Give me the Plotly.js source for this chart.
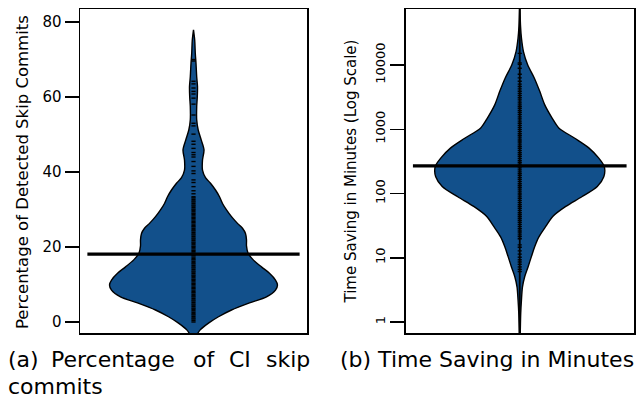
<!DOCTYPE html>
<html>
<head>
<meta charset="utf-8">
<script src="https://cdn.plot.ly/plotly-3.0.1.min.js"></script>
<style>
  html, body { margin: 0; padding: 0; background: #ffffff; }
  #chart { width: 641px; height: 400px; }
</style>
</head>
<body>
<div id="chart"></div>
<script>
// ---- Panel (a): Percentage of detected CI skip commits ----
// violin profile: value level and relative density (half width)
const pctLevels  = [-4, -2.1, -0.3, 1.4, 3.2, 5.1, 6.7, 8.5, 9.9, 11.2, 13, 14.7, 16.5, 18.4, 20.3, 21.9, 23.6, 25, 26.3, 28.1, 29.9, 31.6, 33.4, 35.2, 37, 38.5, 40.5, 43.2, 45.9, 48.5, 51.2, 53.9, 57.4, 60.1, 62.8, 65.4, 69, 71.6, 75.2, 77.9];
const pctDensity = [2, 6.7, 15, 25, 38, 56, 73, 82, 84, 82, 76, 68, 60, 54.5, 53, 53, 52, 49, 44, 38, 33, 29, 26, 22, 17, 12, 9, 9, 10.5, 7.8, 4.7, 3.2, 3.2, 3.8, 4, 3.2, 2.5, 1.8, 1.2, 0];
const pctPoints  = [0, 0.4, 0.8, 1.1, 1.5, 1.9, 2.2, 2.6, 3.0, 3.4, 3.7, 4.1, 4.5, 4.8, 5.2, 5.6, 5.9, 6.3, 6.7, 7.0, 7.4, 7.8, 8.1, 8.5, 8.9, 9.2, 9.6, 10.0, 10.3, 10.7, 11.1, 11.4, 11.8, 12.2, 12.5, 12.9, 13.3, 13.6, 14.0, 14.4, 14.7, 15.1, 15.5, 15.8, 16.2, 16.6, 16.9, 17.3, 17.7, 18.0, 18.4, 18.8, 19.1, 19.5, 19.9, 20.2, 20.6, 21.0, 21.3, 21.7, 22.1, 22.4, 22.8, 23.2, 23.5, 23.9, 24.3, 24.6, 25.0, 25.4, 25.7, 26.1, 26.5, 26.8, 27.2, 27.6, 27.9, 28.3, 28.7, 29.0, 29.4, 29.8, 30.1, 30.5, 30.9, 31.2, 31.6, 32.0, 32.3, 32.7, 33.1, 33.4, 34.2, 35.0, 36.1, 37.2, 37.9, 39.6, 40.3, 41.5, 42.8, 44.0, 44.6, 45.2, 46.3, 47.4, 48.2, 50.1, 52.3, 53.0, 55.2, 58.1, 59.7, 60.8, 61.5, 62.4, 63.5, 64.2, 69.6, 70.0];
const pctMedian  = 18.1;
const pctTicks   = [0, 20, 40, 60, 80];

// ---- Panel (b): Time saving in minutes (log scale) ----
const minLevels  = [0.4, 1.4, 2.2, 3.5, 5.1, 7.2, 10.5, 15, 21, 30, 44, 63, 89, 129, 182, 263, 355, 513, 724, 1050, 1480, 2400, 3900, 6300, 10000, 16200, 26300, 40000, 100000];
const minDensity = [0, 1, 1.7, 2.7, 5, 8.3, 11.7, 15, 19, 25.5, 33, 46, 62, 77.5, 84, 84.5, 79, 69, 55, 39, 32.5, 25, 20, 14.5, 8, 3.7, 1.7, 0.8, 0];
const minPoints  = [6.1, 6.6, 7.2, 7.9, 8.6, 9.3, 10.2, 11.4, 12.8, 14.6, 15.9, 19.8, 21.3, 22.7, 24.4, 26.1, 28.3, 30.5, 32.9, 35.6, 38.1, 40.7, 43.5, 46.8, 50.2, 54.1, 58.4, 62.7, 67.5, 72.9, 78.3, 84.6, 91.2, 98.3, 106, 114, 123, 132, 142, 153, 165, 178, 192, 207, 223, 240, 259, 279, 301, 324, 349, 376, 405, 436, 470, 506, 545, 587, 633, 682, 735, 792, 853, 919, 990, 1070, 1150, 1240, 1340, 1450, 1560, 1690, 1820, 1960, 2120, 2280, 2460, 2650, 2870, 3100, 3350, 3620, 3910, 4250, 4620, 5050, 5600, 6300, 7200, 8900, 10300, 10800, 15200];
const minMedian  = 270;
const minTicks   = [1, 10, 100, 1000, 10000];
const minTickText = ['1', '10', '100', '1000', '10000'];

// ---- helpers ----
const VIOLIN_HALF = 0.74;   // max half width in x-axis units
const FILL = '#12508b';

function violinOutline(levels, density) {
  const m = Math.max(...density);
  const right = density.map(d => d / m * VIOLIN_HALF);
  const left = right.map(v => -v).reverse();
  return { x: right.concat(left), y: levels.concat(levels.slice().reverse()) };
}

function panelTraces(levels, density, points, median, xa, ya, spine) {
  const o = violinOutline(levels, density);
  const t = [
    { type: 'scatter', mode: 'lines', x: o.x, y: o.y, xaxis: xa, yaxis: ya,
      fill: 'toself', fillcolor: FILL,
      line: { color: '#000000', width: 1.4, shape: 'spline', smoothing: 0.8 },
      hoverinfo: 'skip' }
  ];
  if (spine) {
    t.push({ type: 'scatter', mode: 'lines', x: [0, 0], y: [levels[0], levels[levels.length - 1]],
      xaxis: xa, yaxis: ya, line: { color: '#000000', width: 1.8 }, hoverinfo: 'skip' });
  }
  t.push(
    { type: 'scatter', mode: 'markers', x: points.map(() => 0), y: points, xaxis: xa, yaxis: ya,
      marker: { symbol: 'line-ew', size: 3, line: { color: '#000000', width: 1.4 } },
      hoverinfo: 'skip', cliponaxis: true },
    { type: 'scatter', mode: 'lines', x: [-0.935, 0.935], y: [median, median], xaxis: xa, yaxis: ya,
      line: { color: '#000000', width: 3.2 }, hoverinfo: 'skip' }
  );
  return t;
}

const data = []
  .concat(panelTraces(pctLevels, pctDensity, pctPoints, pctMedian, 'x', 'y', false))
  .concat(panelTraces(minLevels, minDensity, minPoints, minMedian, 'x2', 'y2', true));

const W = 641, H = 400;
const px = v => v / W;
const py = v => 1 - v / H;
const FONT = 'DejaVu Sans, Liberation Sans, Arial, sans-serif';

const xBase = { range: [-1, 1], showticklabels: false, ticks: '', showgrid: false, zeroline: false,
  showline: true, mirror: true, linecolor: '#000000', linewidth: 1.5, fixedrange: true };
const yBase = { showgrid: false, zeroline: false, showline: true, mirror: true,
  linecolor: '#000000', linewidth: 1.5, ticks: 'outside', ticklen: 14, tickwidth: 1.5,
  tickcolor: '#000000', fixedrange: true };

const captionFont = { family: FONT, size: 22, color: '#000000' };
function word(text, xLeft, yMid) {
  return { text: text, xref: 'paper', yref: 'paper', x: px(xLeft), y: py(yMid),
    xanchor: 'left', yanchor: 'middle', showarrow: false, borderpad: 0, font: captionFont };
}

const layout = {
  width: W, height: H,
  margin: { l: 0, r: 0, t: 0, b: 0 },
  paper_bgcolor: '#ffffff', plot_bgcolor: '#ffffff',
  showlegend: false, hovermode: false,
  xaxis: Object.assign({}, xBase, { domain: [px(80), px(307)], anchor: 'y' }),
  yaxis: Object.assign({}, yBase, { domain: [py(333), py(9)], anchor: 'x',
    range: [-2.93, 83.47], tickvals: pctTicks,
    tickfont: { family: FONT, size: 15, color: '#000000' } }),
  xaxis2: Object.assign({}, xBase, { domain: [px(405.5), px(634)], anchor: 'y2' }),
  yaxis2: Object.assign({}, yBase, { domain: [py(333), py(9)], anchor: 'x2',
    type: 'log', range: [-0.171, 4.872], tickvals: minTicks, ticktext: minTickText,
    tickangle: -90, tickfont: { family: FONT, size: 13, color: '#000000' } }),
  annotations: [
    { text: 'Percentage of Detected Skip Commits', xref: 'paper', yref: 'paper',
      x: px(23), y: py(172), xanchor: 'center', yanchor: 'middle', textangle: -90,
      showarrow: false, font: { family: FONT, size: 16.5, color: '#000000' } },
    { text: 'Time Saving in Minutes (Log Scale)', xref: 'paper', yref: 'paper',
      x: px(350), y: py(171.5), xanchor: 'center', yanchor: 'middle', textangle: -90,
      showarrow: false, font: { family: FONT, size: 15, color: '#000000' } },
    word('(a)', 7, 359),
    word('Percentage', 50, 359),
    word('of', 192, 359),
    word('CI', 228, 359),
    word('skip', 265, 359),
    word('commits', 7, 386.5),
    word('(b) Time Saving in Minutes', 339, 359)
  ]
};

Plotly.newPlot('chart', data, layout, { staticPlot: true, displayModeBar: false });
</script>
</body>
</html>
